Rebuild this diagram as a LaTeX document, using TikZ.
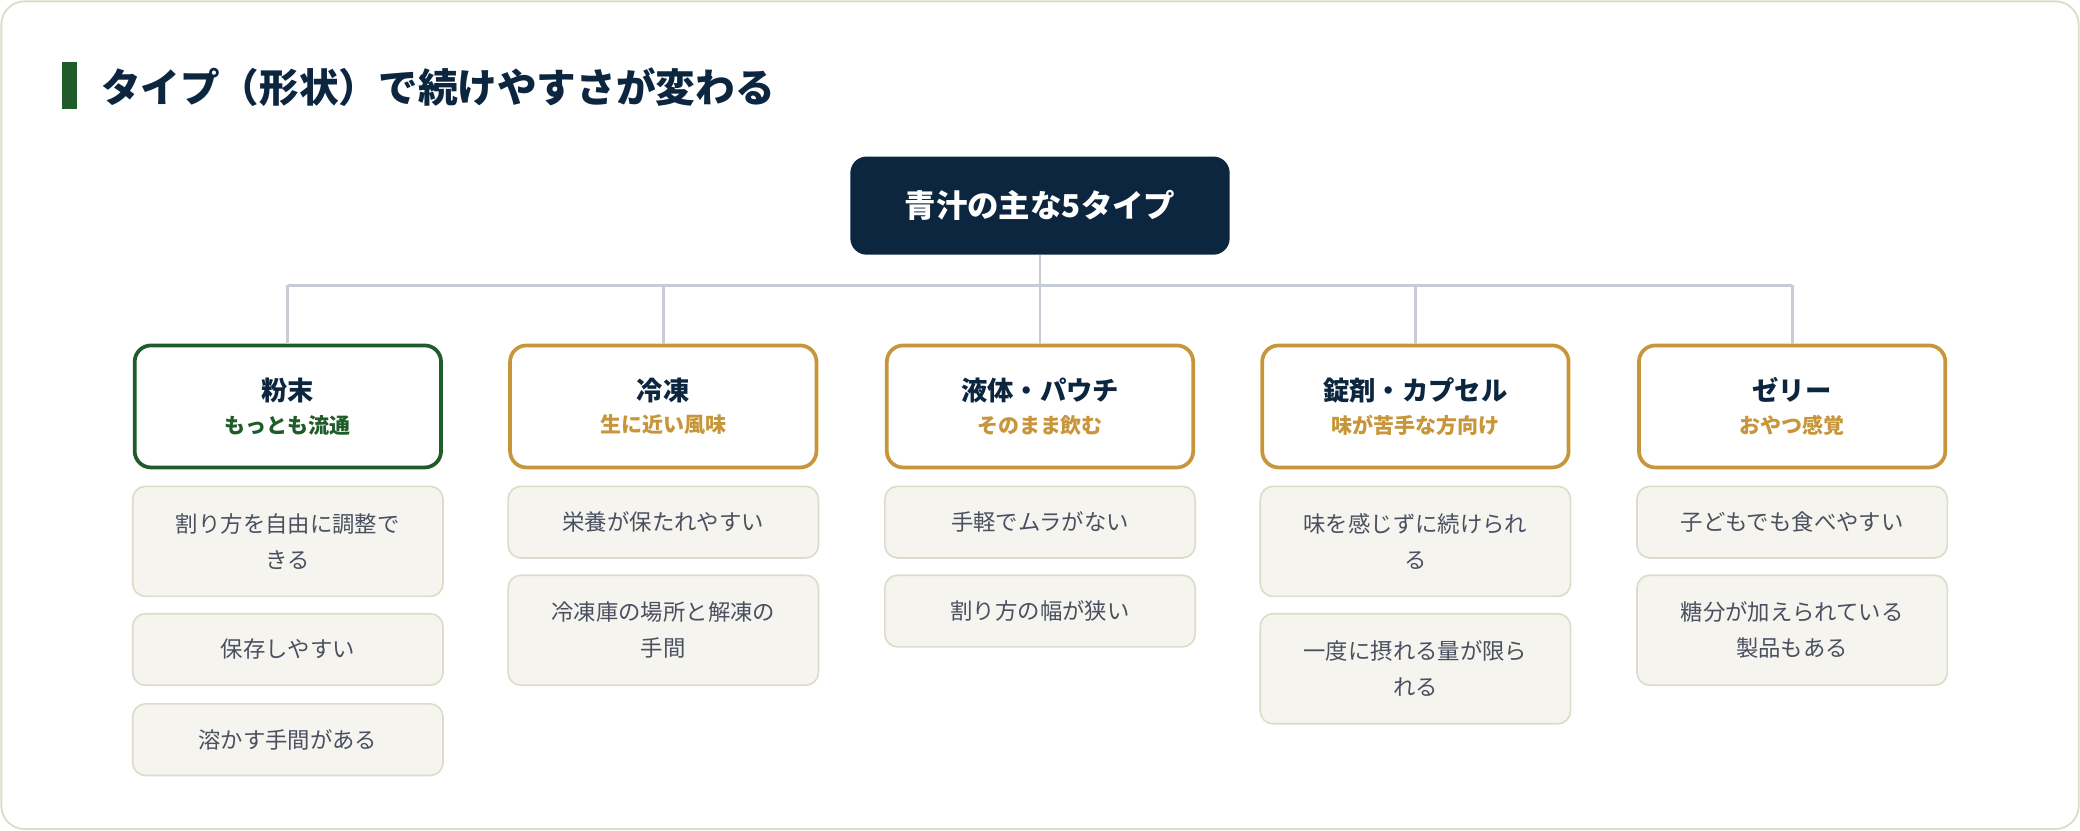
\documentclass[tikz,border=0pt]{standalone}
\usepackage{fontspec}
\setmainfont{Noto Sans CJK JP}
\definecolor{navy}{HTML}{0D2640}
\definecolor{leaf}{HTML}{1F5C2A}
\definecolor{gold}{HTML}{C8963A}
\definecolor{wire}{HTML}{C8CCD6}
\definecolor{cream}{HTML}{F5F4EF}
\definecolor{creamline}{HTML}{DDDCCB}
\definecolor{itemtext}{HTML}{4A5060}
\tikzset{
  root/.style = {rectangle, rounded corners = 7pt, fill = navy, text = white, minimum width = 5.72cm, minimum height = 1.48cm, font = \fontsize{13.5}{16}\selectfont\bfseries},
  type/.style = {rectangle, rounded corners = 7pt, draw = #1, line width = 1.6pt, fill = white, minimum width = 4.62cm, minimum height = 1.84cm, align = center, anchor = north, text = navy},
  item/.style = {rectangle, rounded corners = 5.5pt, draw = creamline, line width = 0.7pt, fill = cream, minimum width = 4.68cm, minimum height = #1, align = center, anchor = north, text = itemtext, font = \fontsize{9.6}{15.5}\selectfont},
  wire/.style = {draw = wire, line width = 1.2pt}
}
\newcommand{\typetext}[3]{{\fontsize{11.3}{14}\selectfont\bfseries #1}\\[2pt]{\fontsize{9}{11}\selectfont\bfseries\color{#3}#2}}
\begin{document}
\begin{tikzpicture}[x = 0.02cm, y = -0.02cm]
    \useasboundingbox (0, 0) rectangle (1568, 626);
    \draw[creamline, line width = 0.8pt, rounded corners = 10pt] (1, 1) rectangle (1567, 625);
    % title
    \fill[leaf] (47, 47) rectangle (58, 82);
    \node[anchor = west, text = navy, font = \fontsize{17}{20}\selectfont\bfseries] (title) at (70, 66) {タイプ（形状）で続けやすさが変わる};
    % root
    \node[root] (types) at (784, 155) {青汁の主な5タイプ};
    % types
    \node[type = leaf] (powder) at (217, 259) {\typetext{粉末}{もっとも流通}{leaf}};
    \node[type = gold] (frozen) at (500, 259) {\typetext{冷凍}{生に近い風味}{gold}};
    \node[type = gold] (liquid) at (784, 259) {\typetext{液体・パウチ}{そのまま飲む}{gold}};
    \node[type = gold] (tablet) at (1067, 259) {\typetext{錠剤・カプセル}{味が苦手な方向け}{gold}};
    \node[type = gold] (jelly) at (1351, 259) {\typetext{ゼリー}{おやつ感覚}{gold}};
    % connectors
    \coordinate (hub) at (784, 215);
    \draw[wire] (types) -- (hub);
    \draw[wire] (217, 215) -- (1351, 215);
    \draw[wire] (217, 215) -- (powder);
    \draw[wire] (500, 215) -- (frozen);
    \draw[wire] (784, 215) -- (liquid);
    \draw[wire] (1067, 215) -- (tablet);
    \draw[wire] (1351, 215) -- (jelly);
    % powder items
    \node[item = 1.66cm] (powder a) at (217, 366) {割り方を自由に調整で\\きる};
    \node[item = 1.08cm] (powder b) at (217, 462) {保存しやすい};
    \node[item = 1.08cm] (powder c) at (217, 530) {溶かす手間がある};
    % frozen items
    \node[item = 1.08cm] (frozen a) at (500, 366) {栄養が保たれやすい};
    \node[item = 1.66cm] (frozen b) at (500, 433) {冷凍庫の場所と解凍の\\手間};
    % liquid items
    \node[item = 1.08cm] (liquid a) at (784, 366) {手軽でムラがない};
    \node[item = 1.08cm] (liquid b) at (784, 433) {割り方の幅が狭い};
    % tablet items
    \node[item = 1.66cm] (tablet a) at (1067, 366) {味を感じずに続けられ\\る};
    \node[item = 1.66cm] (tablet b) at (1067, 462) {一度に摂れる量が限ら\\れる};
    % jelly items
    \node[item = 1.08cm] (jelly a) at (1351, 366) {子どもでも食べやすい};
    \node[item = 1.66cm] (jelly b) at (1351, 433) {糖分が加えられている\\製品もある};
\end{tikzpicture}
\end{document}
